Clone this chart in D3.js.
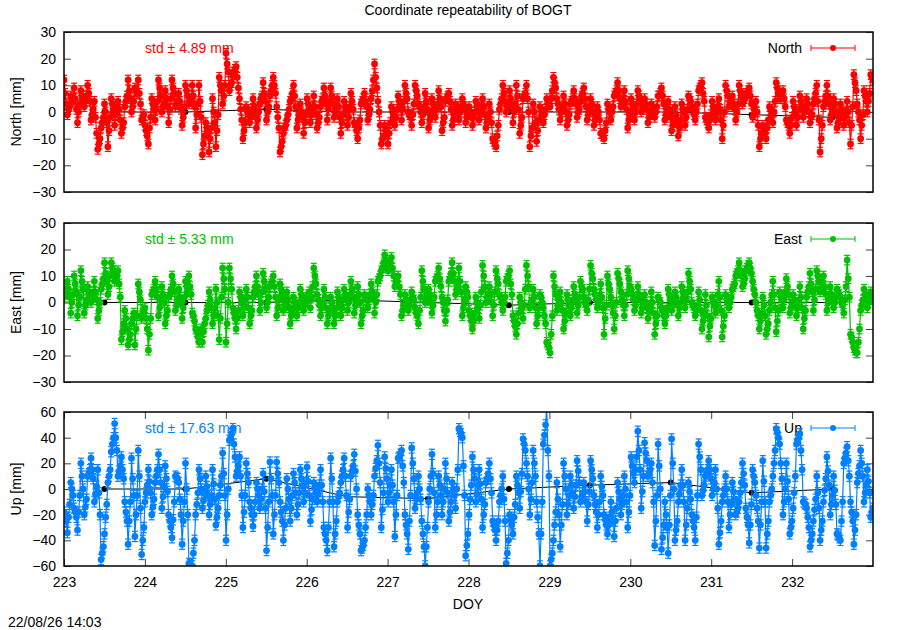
<!DOCTYPE html>
<html>
<head>
<meta charset="utf-8">
<script src="https://cdn.jsdelivr.net/npm/d3@7"></script>
<style>
  body { margin: 0; background: #fff; }
  text { font-family: "Liberation Sans", Arial, sans-serif; }
</style>
</head>
<body>
<div id="chart"></div>
<script>
// Chart size
var width = 900;
var height = 630;

// Half-hourly residuals, DOY 223.0 .. 233.0 [mm]
// (one line per day)
var north = [
  12, 3, -1, 2, 6, 4, 9, 1, -4, 3, 8, 5, 2, 6, 10, 4, -3, 1, 4, -8, -14, -10, -6, -2, 3, -4, -13, -2, 5, 0, -5, 2, 4, -3, -8, -4, 2, 6, 12, 5, 0, 4, 9, 7, 12, 3, -3, -1,
  -5, -9, -12, -2, 5, 1, -3, 4, 12, 6, 0, 3, 8, 2, -4, 5, 12, 7, 2, 4, 7, 1, -5, 2, 10, 6, 3, 5, 10, 2, -6, 3, 10, -2, -16, -9, -4, -8, -15, -6, 5, -4, -13, -1, 13, 8, 3, 10,
  22, 15, 8, 11, 14, 16, 17, 9, 5, -3, -10, -4, 2, -1, -4, 1, 5, -1, -6, 0, 3, 6, 11, 4, -3, 2, 6, 10, 13, 7, 2, -6, -15, -11, -8, -5, -3, 1, 4, 7, 10, 2, -6, -1, 3, -2, -8, -1,
  5, 1, -4, 2, 6, -1, -6, -2, 2, 5, 9, 3, -3, 4, 9, 3, -2, 1, 5, -2, -8, -1, 4, 0, -5, 2, 7, 1, -4, -7, -10, -3, 3, 5, 7, 2, -3, 1, 5, 12, 18, 9, 4, -5, -12, -9, -5, -8,
  -12, -4, 2, -2, -5, 1, 6, 2, -3, 4, 10, 5, 0, -2, -5, 3, 10, 6, 3, 0, -4, 2, 7, 1, -6, -1, 5, 1, -2, 3, 8, 2, -7, -2, 4, 6, 7, 1, -5, -1, 3, 0, -3, 2, 5, 1, -4, 0,
  2, -1, -5, 0, 4, 1, -3, 2, 5, -1, -6, -2, 3, -4, -10, -12, -13, -5, 1, 5, 10, 4, 0, 3, 8, 2, -4, 3, 10, 1, -8, -2, 5, 7, 10, 0, -13, -6, 3, -4, -11, -3, 2, -1, -4, 1, 5, 3,
  2, 8, 13, 9, 5, 1, -3, 2, 6, 0, -5, -1, 3, 5, 8, 3, -2, 1, 4, 7, 9, 2, -3, 1, 5, 0, -5, -1, 2, -3, -8, -9, -10, -4, 3, 0, -3, 2, 6, 8, 11, 5, 2, 5, 8, 1, -6, -1,
  5, 1, -3, 3, 8, 4, 0, 2, 5, 1, -4, -1, 3, 0, -2, 2, 6, 7, 9, 3, -3, 1, 4, -2, -7, -3, 2, -4, -9, -3, 3, 0, -5, 1, 6, 4, 2, -1, -3, 3, 8, 10, 11, 4, -2, -4, -6, -1,
  4, 1, -3, 2, 5, -3, -10, 0, 10, 6, 2, 4, 6, 1, -3, 3, 10, 6, 3, 5, 7, 8, 9, 3, -2, 1, 4, -5, -13, -8, -5, -8, -10, -3, 2, -1, -4, 4, 11, 7, 5, 6, 8, 2, -3, -5, -8, -2,
  4, 0, -5, 1, 6, 2, -2, 1, 5, 0, -4, -1, 3, 7, 10, -3, -15, -5, 2, 6, 10, 3, -3, 1, 5, 0, -6, -2, 3, -1, -5, 0, 4, -4, -12, 2, 14, 8, 3, -3, -10, -1, 8, 4, 0, 7, 14, 12
];
// extra samples lying between each pair of the half-hourly ones above
var northFill = [
  7, 1, 5, 5, 0, 6, 4, 7, -1, -2, -12, -4, 0, -7, 3, -1, 1, -6, 4, 8, 2, 8, 7, -2,
  -7, -6, 3, 1, 9, 2, 5, 1, 9, 3, 4, -2, 8, 4, 6, -1, 4, -12, -6, -10, 0, -7, 10, 6,
  18, 10, 15, 13, 1, -7, 0, -2, 2, -3, 5, 7, 0, 8, 10, -2, -13, -6, -1, 5, 6, -3, 0, -4,
  3, -1, 2, -4, 4, 6, 1, 6, 0, 2, -4, 2, -2, 4, -5, -6, 4, 4, -1, 8, 13, 0, -10, -6,
  -8, 0, -2, 4, 1, 7, -1, -1, 8, 2, -1, 4, -3, 3, 1, 5, -4, 5, 4, -3, 2, 0, 3, -2,
  0, -2, 3, 0, 2, -4, 0, -11, -9, 3, 7, 2, 5, 0, 6, -5, 6, 5, -9, 0, -7, 1, -1, 4,
  5, 11, 3, 0, 3, -3, 4, 5, 0, 6, 5, -1, 3, -3, 0, -8, -7, 1, 0, 7, 8, 3, 4, -3,
  3, 0, 6, 1, 3, -2, 1, 0, 6, 6, -1, 1, -5, -1, -6, 1, -2, 5, 1, 0, 9, 7, -3, -3,
  2, -1, 1, -5, 8, 3, 3, 0, 8, 4, 7, 6, -1, 0, -10, -6, -6, 1, 0, 9, 5, 5, -4, -5,
  2, -2, 4, 0, 3, -2, 5, 4, -10, 4, 6, -1, 3, -4, 1, -2, 0, -5, 11, 0, -5, 6, 4, 13
];
var east = [
  2, 5, 8, 2, -4, 3, 10, 4, -5, 2, 12, 5, -4, 1, 6, 3, 0, 4, 8, 1, -6, 0, 5, 9, 15, 8, 3, 10, 15, 12, 8, 10, 12, 2, -14, -8, -3, -10, -16, -12, -8, -4, -16, -5, 7, 1, -6, -3,
  -2, -10, -18, -6, 3, 5, 8, 2, -5, 1, 6, 0, -8, -3, 2, 5, 10, 4, -3, 1, 5, 0, -6, 2, 8, 4, 10, 3, -4, -7, -10, -13, -15, -10, -15, -8, -6, -1, 4, -2, -8, -2, 5, -5, -14, 2, 13, 5,
  -15, 0, 13, 5, -2, -6, -10, -3, 4, 0, -5, 1, 5, -2, -8, -3, 2, 6, 10, 3, -3, 4, 11, 5, -2, 2, 6, 8, 10, 2, -5, 1, 7, 3, -3, 1, 4, -2, -8, -3, 2, -1, -5, 0, 5, 1, -3, 0,
  2, 4, -2, 6, 13, 7, 3, -1, -5, 0, 5, -2, -8, -3, 2, -3, -8, -2, 4, 0, -5, 1, 5, 1, -3, 3, 8, 2, -4, 1, 6, 0, -8, -3, 3, 1, -2, 3, 7, 2, -4, 3, 8, 10, 12, 15, 18, 14,
  12, 15, 17, 10, 6, 8, 10, 3, -5, -1, 3, 0, -3, 1, 4, 1, -2, -5, -8, 2, 12, 5, 0, 3, 5, 0, -4, 2, 8, 10, 13, 6, 2, -3, -7, 1, 8, 11, 15, 8, 3, 8, 13, 4, -5, 1, 6, 2,
  -3, -7, -10, -4, 2, -2, -6, 4, 14, 6, 0, 3, 6, 0, -5, 4, 12, 7, 3, 0, -3, 2, 8, 10, 12, 3, -5, -9, -12, -4, 2, -2, -6, 5, 14, 6, -2, 1, 5, -2, -8, -2, 3, 0, -2, -8, -15, -17,
  -19, -5, 10, 3, -3, 1, 4, -3, -10, -4, 3, -1, -5, 1, 6, 1, -4, 2, 8, 5, 2, -1, -3, 5, 14, 9, 5, 1, -2, 3, 7, -2, -12, -1, 10, 5, 2, -4, -10, 0, 11, 7, 4, -1, -5, 3, 12, 6,
  5, 1, -3, 2, 6, 1, -4, 0, 3, -2, -6, -1, 4, -4, -12, -5, 2, 0, -2, -5, -8, -2, 5, 1, -3, 1, 4, 0, -5, 0, 6, 2, -2, 4, 11, 5, 0, -2, -5, -1, 4, -3, -10, -4, 3, -5, -13, -6,
  2, -1, -4, 3, 8, -3, -13, -5, 3, 0, -2, 2, 5, 7, 10, 12, 15, 10, 6, 9, 12, 14, 15, 11, 8, 3, 0, -5, -10, -4, 2, -5, -12, -8, -3, 3, 8, -2, -11, -3, 4, 1, -2, 4, 9, 3, -4, 0,
  3, -1, -5, 1, 6, -2, -10, -3, 2, 6, 11, 4, -3, 5, 12, 8, 4, 7, 10, 3, -3, 2, 6, 1, -2, 2, 5, 3, 2, -1, -4, 6, 16, 2, -12, -15, -17, -19, -19, -10, -3, 1, 5, 2, -2, 1, 4, 2
];
var eastFill = [
  4, 5, 0, 7, -1, 8, -1, 4, 2, 4, -3, 7, 11, 6, 13, 9, 7, -11, -6, -14, -6, -10, 4, -4,
  -6, -12, 4, 5, -2, 3, -5, 3, 7, -1, 2, -2, 6, 6, -5, -11, -12, -11, -3, 1, -5, 0, -6, 9,
  -8, 9, -4, -6, 2, -2, 2, -5, 4, 6, 0, 8, 0, 7, 6, -2, 5, -1, 1, -5, 0, -2, 3, -1,
  3, 2, 10, 1, -2, 2, -5, 0, -5, 2, -2, 3, 0, 5, -1, 3, -5, 2, 1, 4, 0, 9, 13, 16,
  14, 13, 7, 6, -3, 1, -1, 2, -4, -3, 8, 1, 3, -1, 9, 9, 0, -3, 9, 11, 5, 8, -2, 4,
  -5, -7, 0, -1, 10, 2, 3, -1, 9, 2, 0, 9, 7, -7, -8, 0, -1, 10, 0, 2, -5, 2, -5, -16,
  -12, 6, -1, 0, -7, 1, -2, 3, -1, 6, 0, 1, 11, 3, 0, 2, -6, 7, -1, -5, 9, 1, -1, 9,
  3, -1, 3, -2, 0, -3, 0, -8, 1, -3, -5, 3, -1, 2, -2, 4, 1, 8, -1, -3, 1, -7, -1, -9,
  0, -1, 2, -9, 1, 0, 6, 11, 12, 7, 13, 13, 5, -3, -7, -1, -10, 0, 3, -7, 2, 1, 6, -2,
  1, -2, 2, -6, 4, 7, 1, 10, 5, 6, 0, 3, 0, 4, 0, 1, 9, -13, -18, -15, -1, 3, 0, 3
];
var up = [
  -18, -25, -34, -12, 5, -5, -15, -22, -32, -5, 20, 0, -20, -8, 10, 15, 24, 8, -10, 2, 15, -20, -55, -45, -35, -12, 5, 15, 29, 40, 51, 30, 10, 18, 25, 8, -10, -25, -43, -10, 24, -5, -37, -5, 30, -15, -51, -30,
  -10, 3, 15, -3, -20, -8, 5, 15, 27, 5, -15, 2, 18, -2, -20, -30, -38, -10, 10, 8, 5, -20, -43, -10, 20, -20, -58, -60, -60, -40, -20, -3, 15, 0, -15, -3, 10, -5, -20, -5, 15, -8, -28, -15, -5, 10, 28, -5,
  -40, 0, 38, 43, 47, 25, 10, 18, 25, -5, -30, -5, 20, 5, -10, -20, -29, -10, 5, -5, -15, 0, 12, -15, -48, -10, 21, -5, -35, -5, 21, 5, -10, -25, -40, -15, 8, -8, -25, -5, 12, -3, -20, -3, 15, 2, -10, 5,
  17, -5, -25, -8, 5, -3, -10, 3, 15, -10, -30, -40, -48, -10, 24, -10, -45, -25, -10, -3, 5, 15, 24, -5, -30, -8, 10, 18, 27, 0, -20, -35, -48, -44, -40, -20, 0, -10, -20, -5, 10, 22, 34, 5, -30, -3, 25, 8,
  -10, 3, 15, -10, -37, -5, 24, 27, 30, 5, -20, -35, -47, -5, 32, 8, -15, -3, 10, -8, -25, -45, -60, -30, -10, 10, 27, -3, -30, -10, 10, -5, -20, 0, 20, -3, -25, -10, 5, -5, -15, 15, 47, 43, 40, -5, -52, -35,
  -20, 3, 25, 8, -10, 3, 15, -8, -30, -12, 5, 12, 20, -3, -25, -32, -40, -25, -10, 0, 10, -25, -58, -40, -20, -28, -35, -12, 10, -3, -15, 12, 39, 30, 20, 0, -20, 5, 30, 10, -10, -35, -60, -10, 35, 50, 65, 10,
  -60, -50, -40, -18, 5, -20, -45, -12, 20, 0, -20, -5, 10, -3, -15, 3, 22, 5, -10, -3, 5, -10, -25, -2, 22, 8, -5, -18, -30, -10, 10, -5, -20, -28, -35, -22, -10, -25, -37, -15, 5, -8, -20, -5, 10, -10, -30, -5,
  25, 12, 5, 25, 45, 15, -15, 10, 36, 22, 10, 15, 20, -10, -44, -5, 35, 0, -47, -28, -10, -30, -50, -5, 39, 0, -40, -25, -10, 3, 15, -10, -40, -15, 5, -8, -20, -30, -40, -5, 35, 15, -5, 3, 10, 15, 22, 8,
  -5, 5, 15, -15, -43, -25, -10, 0, 10, -10, -30, -12, 5, -8, -20, -15, -10, 5, 20, 3, -15, -28, -42, -12, 15, 5, -5, -25, -46, -10, 22, -10, -46, -25, -10, 0, 10, 30, 47, 40, 35, 8, -20, 0, 20, -8, -35, -25,
  -15, 10, 35, 40, 43, 15, -10, -12, -15, -30, -45, -35, -25, -8, 10, -15, -40, -25, -10, 8, 25, 3, -20, -5, 10, -12, -35, -38, -40, -10, 20, 28, 33, 10, -10, -25, -43, -20, 5, 18, 30, 10, -10, 3, 15, -3, -22, -15
];
var upFill = [
  -20, -22, 0, -18, -18, 10, -14, 12, 15, -4, -3, -50, -22, 10, 35, 40, 14, 15, -18, -25, 8, -20, 10, -40,
  -3, 6, -14, 10, 15, -6, 8, -25, -24, 9, -8, -25, 0, -59, -50, -12, 8, -9, 2, -12, 4, -22, 3, 12,
  -20, 40, 35, 14, 10, -18, 12, -15, -20, 0, -8, -2, -30, 8, -20, 12, -18, -28, 0, -15, 5, -12, 8, -3,
  6, -16, 1, -4, 3, -35, -30, 8, -35, -6, 10, 10, -18, 14, 14, -28, -46, -30, -5, -12, 16, 20, -16, 16,
  -3, 3, -20, 25, 18, -28, -25, 20, -8, 0, -35, -45, 0, 12, -20, 3, -10, 8, -18, 0, 0, 45, 18, -44,
  -8, 15, -4, 4, -20, 8, 8, -28, -32, -5, -8, -50, -24, -22, 3, -2, 35, 10, -8, 20, -22, -35, 42, 30,
  -55, -28, -8, -28, 10, -12, 3, -6, 14, -6, -2, -12, 15, -12, -20, 2, -24, -28, -18, -25, -2, -12, 0, -18,
  18, 15, 30, -2, 28, 12, 5, -25, 18, -38, -20, -28, 20, -32, -4, 3, -28, -2, -25, -22, 25, -1, 12, 15,
  0, 0, -34, -5, 0, -20, -2, -18, -3, 12, -22, -28, 10, -15, -28, 6, -35, -5, 20, 44, 20, -10, 6, -30,
  -3, 38, 30, -11, -22, -40, -16, -3, -32, -1, 14, -12, -1, -36, -25, 24, 22, -18, -32, 12, 20, -3, 6, -18
];

// Formal errors (1 sigma) per component [mm]
var sigmaNorth = 1.8;
var sigmaEast = 1.8;
var sigmaUp = 4;

// Daily solutions (black)
var dailyDoy = [223.5, 224.5, 225.5, 226.5, 227.5, 228.5, 229.5, 230.5, 231.5, 232.5];
var dailyNorth = [0, 0, 1, 0, 0, 0, 0, 0, -1, -2];
var dailyEast = [0, 0, 0, 1, 0, -1, 0, 0, 0, 0];
var dailyUp = [0, 0, 8, -6, -7.5, 0, 3, 5, -3, 0];

// Labels
var stdLabels = ["std \u00b1 4.89 mm", "std \u00b1 5.33 mm", "std \u00b1 17.63 mm"];
var seriesNames = ["North", "East", "Up"];
var doyTicks = [223, 224, 225, 226, 227, 228, 229, 230, 231, 232];
var neTicks = [-30, -20, -10, 0, 10, 20, 30];
var upTicks = [-60, -40, -20, 0, 20, 40, 60];

var svg = d3.select("#chart")
    .append("svg")
    .attr("width", width)
    .attr("height", height);

var x = d3.scaleLinear()
    .domain([223, 233])
    .range([64, 873]);

// put the fill samples in between the half-hourly ones (time order)
function merge(main, fill) {
    var out = [];
    fill.forEach(function(f, j) {
        out.push(main[2 * j], f, main[2 * j + 1]);
    });
    return out.filter(function(v) { return v !== undefined; });
}

// sampling epochs: evenly spaced over the ten days
function epochs(values) {
    return values.map(function(v, i) { return 223 + i * 10 / (values.length - 1); });
}

var panels = [
    { name: seriesNames[0], values: merge(north, northFill), sigma: sigmaNorth, daily: dailyNorth, color: "#ff0000",
      domain: [-30, 30], ticks: neTicks, top: 32, bottom: 192, std: stdLabels[0], xaxis: false },
    { name: seriesNames[1], values: merge(east, eastFill), sigma: sigmaEast, daily: dailyEast, color: "#00c000",
      domain: [-30, 30], ticks: neTicks, top: 223, bottom: 382, std: stdLabels[1], xaxis: false },
    { name: seriesNames[2], values: merge(up, upFill), sigma: sigmaUp, daily: dailyUp, color: "#0080ff",
      domain: [-60, 60], ticks: upTicks, top: 412, bottom: 566, std: stdLabels[2], xaxis: true }
];

// Title
svg.append("text")
    .attr("x", 468)
    .attr("y", 15)
    .attr("text-anchor", "middle")
    .style("font-size", "14px")
    .text("Coordinate repeatability of BOGT");

panels.forEach(function(p, k) {
    var y = d3.scaleLinear()
        .domain(p.domain)
        .range([p.bottom, p.top]);

    var g = svg.append("g");
    var clipId = "clip" + k;

    svg.append("clipPath")
        .attr("id", clipId)
        .append("rect")
        .attr("x", x.range()[0])
        .attr("y", p.top)
        .attr("width", x.range()[1] - x.range()[0])
        .attr("height", p.bottom - p.top);

    // Left axis with labels, ticks pointing inward
    var left = g.append("g")
        .attr("transform", "translate(" + x.range()[0] + ",0)")
        .call(d3.axisLeft(y).tickValues(p.ticks).tickSize(-7).tickPadding(8));
    left.select(".domain").remove();
    left.selectAll("text").style("font-size", "14px").style("font-family", "Liberation Sans, Arial, sans-serif").attr("fill", "#000");
    left.selectAll("line").attr("stroke", "#444");

    // Right axis, ticks only
    var right = g.append("g")
        .attr("transform", "translate(" + x.range()[1] + ",0)")
        .call(d3.axisRight(y).tickValues(p.ticks).tickSize(-7).tickFormat(""));
    right.select(".domain").remove();
    right.selectAll("line").attr("stroke", "#444");

    if (p.xaxis) {
        var bottom = g.append("g")
            .attr("transform", "translate(0," + p.bottom + ")")
            .call(d3.axisBottom(x).tickValues(doyTicks).tickSize(-7).tickPadding(11));
        bottom.select(".domain").remove();
        bottom.selectAll("text").style("font-size", "14px").style("font-family", "Liberation Sans, Arial, sans-serif").attr("fill", "#000");
        bottom.selectAll("line").attr("stroke", "#444");

        var topAxis = g.append("g")
            .attr("transform", "translate(0," + p.top + ")")
            .call(d3.axisTop(x).tickValues(doyTicks).tickSize(-7).tickFormat(""));
        topAxis.select(".domain").remove();
        topAxis.selectAll("line").attr("stroke", "#444");
    }

    // Y label
    g.append("text")
        .attr("transform", "translate(21," + ((p.top + p.bottom) / 2) + ") rotate(-90)")
        .attr("text-anchor", "middle")
        .style("font-size", "14px")
        .text(p.name + " [mm]");

    // std label
    g.append("text")
        .attr("x", 145)
        .attr("y", p.top + 21)
        .style("font-size", "14px")
        .attr("fill", p.color)
        .text(p.std);

    // Legend
    var ly = p.top + 16;
    g.append("text")
        .attr("x", 802)
        .attr("y", ly + 5)
        .attr("text-anchor", "end")
        .style("font-size", "14px")
        .text(p.name);
    var leg = g.append("g").attr("stroke", p.color).attr("stroke-width", 1);
    leg.append("line").attr("x1", 811).attr("x2", 855).attr("y1", ly).attr("y2", ly);
    leg.append("line").attr("x1", 811).attr("x2", 811).attr("y1", ly - 3).attr("y2", ly + 3);
    leg.append("line").attr("x1", 855).attr("x2", 855).attr("y1", ly - 3).attr("y2", ly + 3);
    g.append("circle").attr("cx", 833).attr("cy", ly).attr("r", 3).attr("fill", p.color);

    var data = epochs(p.values).map(function(t, i) {
        return { t: t, v: p.values[i], s: p.sigma };
    });
    var daily = dailyDoy.map(function(t, i) { return { t: t, v: p.daily[i] }; });

    var plot = g.append("g").attr("clip-path", "url(#" + clipId + ")");

    // Daily solutions underneath
    plot.append("path")
        .datum(daily)
        .attr("fill", "none")
        .attr("stroke", "#000")
        .attr("stroke-width", 1)
        .attr("d", d3.line().x(function(d) { return x(d.t); }).y(function(d) { return y(d.v); }));
    plot.selectAll("circle.daily")
        .data(daily)
        .enter()
        .append("circle")
        .attr("class", "daily")
        .attr("cx", function(d) { return x(d.t); })
        .attr("cy", function(d) { return y(d.v); })
        .attr("r", 3)
        .attr("fill", "#000");

    // Connecting line
    plot.append("path")
        .datum(data)
        .attr("fill", "none")
        .attr("stroke", p.color)
        .attr("stroke-width", 1.2)
        .attr("d", d3.line().x(function(d) { return x(d.t); }).y(function(d) { return y(d.v); }));

    // Error bars with caps
    var bars = plot.selectAll("g.bar")
        .data(data)
        .enter()
        .append("g")
        .attr("class", "bar")
        .attr("stroke", p.color)
        .attr("stroke-width", 1.2);
    bars.append("line")
        .attr("x1", function(d) { return x(d.t); })
        .attr("x2", function(d) { return x(d.t); })
        .attr("y1", function(d) { return y(d.v - d.s); })
        .attr("y2", function(d) { return y(d.v + d.s); });
    bars.append("line")
        .attr("x1", function(d) { return x(d.t) - 3; })
        .attr("x2", function(d) { return x(d.t) + 3; })
        .attr("y1", function(d) { return y(d.v + d.s); })
        .attr("y2", function(d) { return y(d.v + d.s); });
    bars.append("line")
        .attr("x1", function(d) { return x(d.t) - 3; })
        .attr("x2", function(d) { return x(d.t) + 3; })
        .attr("y1", function(d) { return y(d.v - d.s); })
        .attr("y2", function(d) { return y(d.v - d.s); });

    // Points
    plot.selectAll("circle.pt")
        .data(data)
        .enter()
        .append("circle")
        .attr("class", "pt")
        .attr("cx", function(d) { return x(d.t); })
        .attr("cy", function(d) { return y(d.v); })
        .attr("r", 3.4)
        .attr("fill", p.color);

    // Border
    g.append("rect")
        .attr("x", x.range()[0])
        .attr("y", p.top)
        .attr("width", x.range()[1] - x.range()[0])
        .attr("height", p.bottom - p.top)
        .attr("fill", "none")
        .attr("stroke", "#000")
        .attr("stroke-width", 1.5);
});

// X label and time stamp
svg.append("text")
    .attr("x", 468)
    .attr("y", 609)
    .attr("text-anchor", "middle")
    .style("font-size", "14px")
    .text("DOY");

svg.append("text")
    .attr("x", 8)
    .attr("y", 627)
    .style("font-size", "14px")
    .text("22/08/26 14:03");
</script>
</body>
</html>
